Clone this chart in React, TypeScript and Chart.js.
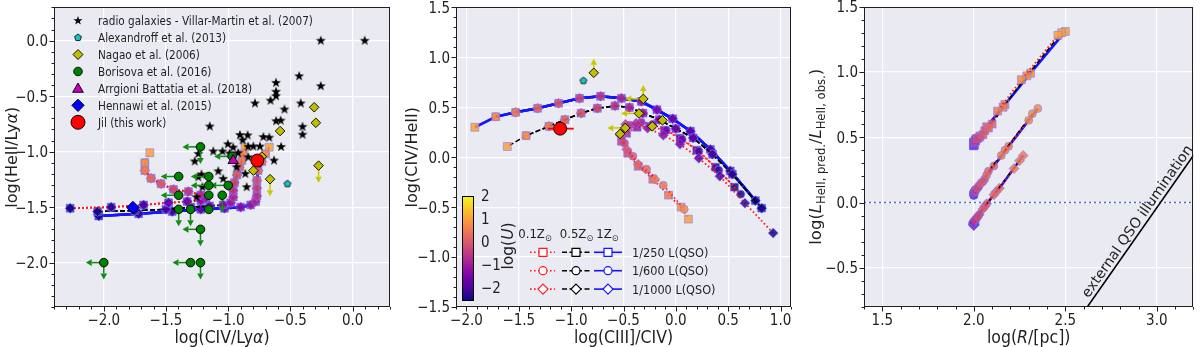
import React, { useEffect, useRef } from 'react';
import { Chart, registerables } from 'chart.js';

Chart.register(...registerables);

const FONT = '"DejaVu Sans", "Liberation Sans", Arial, sans-serif';
const INK = '#1f1f1f';
const PANEL_BG = '#eaeaf2';

// ---------------- model grid : log(U) of each model point ----------------
const LOGU_250 = [-2.5, -2.25, -2.0, -1.75, -1.5, -1.25, -1.0, -0.75, -0.5, -0.25, 0.0, 0.25, 0.5, 0.75, 1.0];
const LOGU_600 = [-2.5, -2.25, -2.0, -1.75, -1.5, -1.25, -1.0, -0.75, -0.5, -0.25, 0.0, 0.25, 0.5, 0.75];
const LOGU_1000 = [-2.5, -2.25, -2.0, -1.75, -1.5, -1.25, -1.0, -0.75, -0.5, -0.25, 0.0, 0.25, 0.5];
const CB_TICKS = [-2, -1, 0, 1, 2];

// ---------------- Panel 1 : log(HeII/Lya) vs log(CIV/Lya) ----------------
const P1_XTICKS = [-2.0, -1.5, -1.0, -0.5, 0.0];
const P1_YTICKS = [-2.0, -1.5, -1.0, -0.5, 0.0];

const RG_X = [-0.256, 0.097, -0.43, -0.256, -0.616, -0.616, -0.616, -0.66, -0.417, -0.785, -0.548, -0.616, -0.578, -0.403, -0.403, -1.148, -0.906, -0.844, -0.718, -0.67, -0.884, -1.003, -0.96, -0.798, -0.745, -0.575, -1.046, -1.12, -0.92, -1.24, -0.989, -0.632, -1.269, -0.839, -1.08, -1.215, -1.24, -0.933, -0.863, -0.852, -1.255, -1.207, -1.04, -0.84];
const RG_Y = [0.0, 0.0, -0.32, -0.41, -0.38, -0.46, -0.5, -0.54, -0.565, -0.565, -0.62, -0.725, -0.72, -0.776, -0.847, -0.773, -0.85, -0.853, -0.868, -0.874, -0.897, -0.933, -0.963, -0.954, -0.954, -0.957, -0.998, -0.998, -1.013, -1.02, -1.016, -1.08, -1.088, -1.05, -1.177, -1.206, -1.23, -1.14, -1.2, -1.32, -1.41, -1.32, -1.245, -0.956];

const ALEX1_X = [-0.524];
const ALEX1_Y = [-1.29];

const NAG1_X = [-0.309, -0.296, -0.583, -0.274, -0.664, -0.798, -0.73];
const NAG1_Y = [-0.6, -0.74, -0.814, -1.126, -1.248, -1.171, -1.045];
const NAG1_LIMITS = ['', '', '', 'D', 'D', '', ''];

const BOR_X = [-1.223, -0.968, -1.398, -1.156, -1.156, -1.0, -1.398, -1.156, -1.048, -1.398, -1.303, -1.156, -1.223, -2.0, -1.303, -1.223];
const BOR_Y = [-0.957, -1.043, -1.224, -1.224, -1.304, -1.304, -1.393, -1.393, -1.393, -1.52, -1.52, -1.52, -1.7, -2.0, -2.0, -2.0];
const BOR_LIMITS = ['LD', 'L', 'L', 'L', 'L', 'L', 'L', '', 'D', 'D', 'D', '', 'LD', 'LD', 'L', 'D'];

const ARR_X = [-0.96];
const ARR_Y = [-1.08];
const HEN_X = [-1.766];
const HEN_Y = [-1.504];
const JIL1_X = [-0.766];
const JIL1_Y = [-1.08];

const LEG1_LABELS = [
  'radio galaxies - Villar-Martin et al. (2007)',
  'Alexandroff et al. (2013)',
  'Nagao et al. (2006)',
  'Borisova et al. (2016)',
  'Arrgioni Battatia et al. (2018)',
  'Hennawi et al. (2015)',
  'Jil (this work)',
];

const M1_RED_X = [-2.27, -1.94, -1.68, -1.48, -1.33, -1.22, -1.18, -1.22, -1.32, -1.44, -1.54, -1.62, -1.67, -1.67, -1.63];
const M1_RED_Y = [-1.51, -1.5, -1.48, -1.46, -1.45, -1.44, -1.42, -1.39, -1.36, -1.34, -1.29, -1.24, -1.17, -1.1, -1.01];
const M1_BLACK_X = [-2.05, -1.75, -1.5, -1.3, -1.15, -1.04, -0.98, -0.96, -0.96, -0.95, -0.93, -0.91, -0.89, -0.88, -0.865];
const M1_BLACK_Y = [-1.54, -1.53, -1.52, -1.5, -1.49, -1.48, -1.46, -1.41, -1.35, -1.28, -1.21, -1.14, -1.08, -1.02, -0.96];
const M1_BLUE_X = [-2.04, -1.72, -1.45, -1.22, -1.03, -0.9, -0.82, -0.78, -0.77, -0.77, -0.77, -0.76, -0.73, -0.7, -0.67];
const M1_BLUE_Y = [-1.58, -1.56, -1.54, -1.52, -1.51, -1.5, -1.48, -1.45, -1.4, -1.33, -1.26, -1.17, -1.09, -1.02, -0.96];

// ---------------- Panel 2 : log(CIV/HeII) vs log(CIII]/CIV) ----------------
const P2_XTICKS = [-2.0, -1.5, -1.0, -0.5, 0.0, 0.5, 1.0];
const P2_YTICKS = [-1.5, -1.0, -0.5, 0.0, 0.5, 1.0, 1.5];

const NAG2_X = [-0.784, -0.311, -0.352, -0.127, -0.225, -0.483, -0.533];
const NAG2_Y = [0.845, 0.584, 0.438, 0.369, 0.309, 0.293, 0.233];
const NAG2_LIMITS = ['U', 'LU', 'L', '', '', 'L', ''];
const ALEX2_X = [-0.883];
const ALEX2_Y = [0.766];
const JIL2_X = [-1.105];
const JIL2_Y = [0.286];
const JIL2_XERR = [[-1.222, -0.975]];

const M2_BLUE_X = [0.76, 0.52, 0.33, 0.14, -0.03, -0.18, -0.33, -0.52, -0.72, -0.92, -1.12, -1.32, -1.53, -1.72, -1.92];
const M2_BLUE_Y = [-0.435, -0.137, 0.078, 0.26, 0.385, 0.475, 0.557, 0.59, 0.61, 0.59, 0.54, 0.49, 0.45, 0.405, 0.3];
const M2_BLACK_X = [0.82, 0.54, 0.35, 0.165, 0.0, -0.159, -0.314, -0.444, -0.581, -0.75, -0.905, -1.06, -1.212, -1.43, -1.61];
const M2_BLACK_Y = [-0.51, -0.17, 0.03, 0.193, 0.286, 0.376, 0.441, 0.498, 0.514, 0.49, 0.441, 0.375, 0.309, 0.216, 0.107];
const M2_RED250_X = [0.56, 0.38, 0.2, 0.04, -0.11, -0.25, -0.37, -0.47, -0.52, -0.46, -0.36, -0.22, -0.07, 0.05, 0.12];
const M2_RED250_Y = [-0.3, -0.1, 0.07, 0.19, 0.27, 0.31, 0.3, 0.24, 0.16, 0.04, -0.09, -0.22, -0.38, -0.5, -0.62];
const M2_RED600_X = [0.62, 0.41, 0.22, 0.06, -0.09, -0.22, -0.33, -0.44, -0.51, -0.49, -0.41, -0.28, -0.12, 0.08];
const M2_RED600_Y = [-0.37, -0.13, 0.06, 0.18, 0.27, 0.33, 0.35, 0.32, 0.24, 0.14, 0.01, -0.12, -0.28, -0.52];
const M2_RED1000_X = [0.93, 0.66, 0.42, 0.22, 0.04, -0.12, -0.27, -0.38, -0.48, -0.53, -0.47, -0.36, -0.2];
const M2_RED1000_Y = [-0.76, -0.46, -0.19, -0.01, 0.13, 0.22, 0.29, 0.34, 0.33, 0.22, 0.08, -0.07, -0.22];

const LEG2_ROWS = ['1/250 L(QSO)', '1/600 L(QSO)', '1/1000 L(QSO)'];
const LEG2_HEAD = ['0.1Z', '0.5Z', '1Z'];

// ---------------- Panel 3 : log(L_pred/L_obs) vs log(R/pc) ----------------
const P3_XTICKS = [1.5, 2.0, 2.5, 3.0];
const P3_YTICKS = [-0.5, 0.0, 0.5, 1.0, 1.5];

const M3_RED250_X = [2.0, 2.0, 2.0, 2.0, 2.0, 2.0, 2.0, 2.005, 2.01, 2.02, 2.05, 2.08, 2.13, 2.26, 2.46];
const M3_RED250_Y = [0.435, 0.44, 0.44, 0.445, 0.45, 0.455, 0.46, 0.465, 0.47, 0.49, 0.52, 0.57, 0.7, 0.94, 1.28];
const M3_BLACK250_X = [2.0, 2.0, 2.0, 2.0, 2.0, 2.0, 2.0, 2.005, 2.01, 2.03, 2.06, 2.1, 2.16, 2.29, 2.48];
const M3_BLACK250_Y = [0.435, 0.44, 0.44, 0.445, 0.45, 0.455, 0.46, 0.465, 0.48, 0.5, 0.55, 0.6, 0.73, 0.97, 1.3];
const M3_BLUE250_X = [2.0, 2.0, 2.0, 2.0, 2.0, 2.0, 2.0, 2.005, 2.01, 2.015, 2.035, 2.07, 2.17, 2.31, 2.5];
const M3_BLUE250_Y = [0.435, 0.44, 0.44, 0.445, 0.45, 0.455, 0.46, 0.47, 0.48, 0.49, 0.51, 0.58, 0.75, 0.99, 1.31];
const M3_RED600_X = [2.0, 2.0, 2.0, 2.0, 2.0, 2.0, 2.0, 2.005, 2.01, 2.02, 2.04, 2.07, 2.15, 2.3];
const M3_RED600_Y = [0.055, 0.06, 0.06, 0.065, 0.07, 0.075, 0.08, 0.085, 0.09, 0.11, 0.15, 0.21, 0.36, 0.63];
const M3_BLACK600_X = [2.0, 2.0, 2.0, 2.0, 2.0, 2.0, 2.0, 2.005, 2.01, 2.025, 2.05, 2.08, 2.17, 2.32];
const M3_BLACK600_Y = [0.055, 0.06, 0.06, 0.065, 0.07, 0.075, 0.08, 0.09, 0.1, 0.12, 0.16, 0.24, 0.4, 0.68];
const M3_BLUE600_X = [2.0, 2.0, 2.0, 2.0, 2.0, 2.0, 2.0, 2.005, 2.01, 2.03, 2.06, 2.11, 2.19, 2.35];
const M3_BLUE600_Y = [0.055, 0.06, 0.06, 0.065, 0.07, 0.075, 0.08, 0.09, 0.1, 0.13, 0.18, 0.28, 0.43, 0.72];
const M3_RED1000_X = [2.0, 2.0, 2.0, 2.0, 2.0, 2.0, 2.0, 2.005, 2.01, 2.02, 2.05, 2.11, 2.22];
const M3_RED1000_Y = [-0.175, -0.17, -0.17, -0.165, -0.16, -0.155, -0.15, -0.14, -0.13, -0.11, -0.05, 0.06, 0.26];
const M3_BLACK1000_X = [2.0, 2.0, 2.0, 2.0, 2.0, 2.0, 2.0, 2.005, 2.01, 2.025, 2.06, 2.12, 2.25];
const M3_BLACK1000_Y = [-0.175, -0.17, -0.17, -0.165, -0.16, -0.155, -0.15, -0.14, -0.125, -0.1, -0.03, 0.08, 0.32];
const M3_BLUE1000_X = [2.0, 2.0, 2.0, 2.0, 2.0, 2.0, 2.0, 2.005, 2.015, 2.03, 2.07, 2.14, 2.27];
const M3_BLUE1000_Y = [-0.175, -0.17, -0.17, -0.165, -0.16, -0.155, -0.15, -0.135, -0.12, -0.09, -0.01, 0.11, 0.36];

const ZERO_X = [1.4, 3.2];
const ZERO_Y = [0.0, 0.0];
const EXT_X = [2.6, 3.2];
const EXT_Y = [-0.84, 0.36];
const EXT_LABEL = 'external QSO illumination';

// ---------------- colour map ----------------
const PLASMA = ['#0d0887', '#41049d', '#6a00a8', '#8f0da4', '#b12a90', '#cc4778', '#e16462', '#f2844b', '#fca636', '#fcce25', '#f0f921'];
const U_MIN = -2.57;
const U_MAX = 2.0;
function hexRgb(h: string) {
  return [parseInt(h.slice(1, 3), 16), parseInt(h.slice(3, 5), 16), parseInt(h.slice(5, 7), 16)];
}
function plasma(t: number, a = 1) {
  t = Math.max(0, Math.min(1, t));
  const f = t * (PLASMA.length - 1);
  const i = Math.min(Math.floor(f), PLASMA.length - 2);
  const r = f - i;
  const c0 = hexRgb(PLASMA[i]);
  const c1 = hexRgb(PLASMA[i + 1]);
  const c = c0.map((v, k) => Math.round(v + (c1[k] - v) * r));
  return `rgba(${c[0]},${c[1]},${c[2]},${a})`;
}
function uColor(u: number, a: number) {
  return plasma((u - U_MIN) / (U_MAX - U_MIN), a);
}

// ---------------- helpers ----------------
function pts(xs: number[], ys: number[]) {
  return xs.map((x, i) => ({ x, y: ys[i] }));
}

const Z_LINE: any = {
  red: { color: '#ff1a1a', dash: [1.6, 2.4], width: 1.8 },
  black: { color: '#000000', dash: [5, 2.5], width: 1.5 },
  blue: { color: '#1414ff', dash: [], width: 2.6 },
};
const L_MARK: any = {
  L250: { style: 'rect', r: 5.6 },
  L600: { style: 'circle', r: 4.0 },
  L1000: { style: 'rectRot', r: 5.0 },
};

function track(xs: number[], ys: number[], us: number[], z: string, l: string, order: number) {
  const ln = Z_LINE[z];
  const mk = L_MARK[l];
  return {
    data: pts(xs.slice(0, us.length), ys.slice(0, us.length)),
    showLine: true,
    borderColor: ln.color,
    borderDash: ln.dash,
    borderWidth: ln.width,
    pointStyle: mk.style,
    pointRadius: mk.r,
    pointBorderWidth: 1,
    pointBackgroundColor: us.map((u) => uColor(u, 0.85)),
    pointBorderColor: 'rgba(120,120,255,0.55)',
    order,
  };
}

type Seg = { t: string; it?: boolean; sub?: boolean };
function segFont(size: number, s: Seg) {
  const sz = s.sub ? size * 0.7 : size;
  return `${s.it ? 'italic ' : ''}${sz}px ${FONT}`;
}
function drawRich(ctx: any, segs: Seg[], cx: number, cy: number, size: number, rot: number, sx: number, align = 'center') {
  ctx.save();
  ctx.translate(cx, cy);
  ctx.rotate(rot);
  ctx.scale(sx, 1);
  let total = 0;
  const ws = segs.map((s) => {
    ctx.font = segFont(size, s);
    const w = ctx.measureText(s.t).width;
    total += w;
    return w;
  });
  let x = align === 'center' ? -total / 2 : align === 'right' ? -total : 0;
  ctx.textBaseline = 'alphabetic';
  ctx.textAlign = 'left';
  ctx.fillStyle = INK;
  const base = size * 0.36;
  segs.forEach((s, i) => {
    ctx.font = segFont(size, s);
    ctx.fillText(s.t, x, base + (s.sub ? size * 0.24 : 0));
    x += ws[i];
  });
  ctx.restore();
}
function txt(ctx: any, t: string, x: number, y: number, size: number, align: string, sx: number) {
  drawRich(ctx, [{ t }], x, y, size, 0, sx, align);
}
function fmt(v: number, d = 1) {
  const s = Math.abs(v).toFixed(d);
  return v < -1e-9 ? '\u2212' + s : s;
}

function pathStar(ctx: any, x: number, y: number, r: number) {
  ctx.beginPath();
  for (let i = 0; i < 10; i++) {
    const a = -Math.PI / 2 + (i * Math.PI) / 5;
    const rr = i % 2 === 0 ? r : r * 0.4;
    ctx.lineTo(x + rr * Math.cos(a), y + rr * Math.sin(a));
  }
  ctx.closePath();
}
function pathPoly(ctx: any, x: number, y: number, r: number, n: number) {
  ctx.beginPath();
  for (let i = 0; i < n; i++) {
    const a = -Math.PI / 2 + (i * 2 * Math.PI) / n;
    ctx.lineTo(x + r * Math.cos(a), y + r * Math.sin(a));
  }
  ctx.closePath();
}
function pathDiamond(ctx: any, x: number, y: number, r: number) {
  ctx.beginPath();
  ctx.moveTo(x, y - r);
  ctx.lineTo(x + r, y);
  ctx.lineTo(x, y + r);
  ctx.lineTo(x - r, y);
  ctx.closePath();
}
function pathCircle(ctx: any, x: number, y: number, r: number) {
  ctx.beginPath();
  ctx.arc(x, y, r, 0, Math.PI * 2);
}
function pathSquare(ctx: any, x: number, y: number, h: number) {
  ctx.beginPath();
  ctx.rect(x - h, y - h, 2 * h, 2 * h);
}
function paint(ctx: any, fill: string | null, stroke: string | null, lw = 1) {
  if (fill) {
    ctx.fillStyle = fill;
    ctx.fill();
  }
  if (stroke) {
    ctx.strokeStyle = stroke;
    ctx.lineWidth = lw;
    ctx.stroke();
  }
}
function markerImage(draw: (g: any, c: number) => void, size: number) {
  const c = document.createElement('canvas');
  c.width = size;
  c.height = size;
  const g = c.getContext('2d');
  draw(g, size / 2);
  return c;
}

function drawArrow(ctx: any, x: number, y: number, dx: number, dy: number, len: number, color: string) {
  const ex = x + dx * len;
  const ey = y + dy * len;
  const head = 6;
  const hw = 3.3;
  const bx = ex - dx * head;
  const by = ey - dy * head;
  const px = -dy;
  const py = dx;
  ctx.save();
  ctx.strokeStyle = color;
  ctx.fillStyle = color;
  ctx.lineWidth = 1.5;
  ctx.beginPath();
  ctx.moveTo(x, y);
  ctx.lineTo(bx, by);
  ctx.stroke();
  ctx.beginPath();
  ctx.moveTo(ex, ey);
  ctx.lineTo(bx + px * hw, by + py * hw);
  ctx.lineTo(bx - px * hw, by - py * hw);
  ctx.closePath();
  ctx.fill();
  ctx.restore();
}

const ARROW_DIR: any = { L: [-1, 0, 18], D: [0, 1, 17], U: [0, -1, 14] };

const marksPlugin = {
  id: 'marks',
  beforeDatasetDraw(chart: any, args: any) {
    const ds = chart.data.datasets[args.index];
    const ctx = chart.ctx;
    const meta = args.meta;
    if (ds.limits) {
      meta.data.forEach((pt: any, j: number) => {
        const code = ds.limits[j] || '';
        for (const ch of code) {
          const d = ARROW_DIR[ch];
          if (d) drawArrow(ctx, pt.x, pt.y, d[0], d[1], d[2], ds.limitColor);
        }
      });
    }
    if (ds.xerr) {
      const xs = chart.scales.x;
      ctx.save();
      ctx.strokeStyle = ds.xerrColor;
      ctx.lineWidth = 1.8;
      meta.data.forEach((pt: any, j: number) => {
        const e = ds.xerr[j];
        ctx.beginPath();
        ctx.moveTo(xs.getPixelForValue(e[0]), pt.y);
        ctx.lineTo(xs.getPixelForValue(e[1]), pt.y);
        ctx.stroke();
      });
      ctx.restore();
    }
  },
};

function decor(cfg: any) {
  return {
    id: 'decor',
    beforeDraw(chart: any) {
      const { ctx, chartArea: a } = chart;
      ctx.save();
      ctx.fillStyle = '#ffffff';
      ctx.fillRect(0, 0, chart.width, chart.height);
      ctx.fillStyle = PANEL_BG;
      ctx.fillRect(a.left, a.top, a.right - a.left, a.bottom - a.top);
      ctx.restore();
    },
    afterDraw(chart: any) {
      const { ctx, chartArea: a, scales } = chart;
      const xs = scales.x;
      const ys = scales.y;
      ctx.save();
      ctx.strokeStyle = INK;
      ctx.lineWidth = 1;
      ctx.strokeRect(Math.round(a.left) + 0.5, Math.round(a.top) + 0.5, Math.round(a.right - a.left) - 1, Math.round(a.bottom - a.top) - 1);
      // ticks (outward, major + minor)
      ctx.beginPath();
      const step = 0.1;
      for (let k = Math.ceil(xs.min / step - 1e-6); k <= Math.floor(xs.max / step + 1e-6); k++) {
        const v = k * step;
        const major = cfg.xt.some((t: number) => Math.abs(t - v) < 1e-6);
        const px = Math.round(xs.getPixelForValue(v)) + 0.5;
        ctx.moveTo(px, a.bottom);
        ctx.lineTo(px, a.bottom + (major ? 4.5 : 2.5));
      }
      for (let k = Math.ceil(ys.min / step - 1e-6); k <= Math.floor(ys.max / step + 1e-6); k++) {
        const v = k * step;
        const major = cfg.yt.some((t: number) => Math.abs(t - v) < 1e-6);
        const py = Math.round(ys.getPixelForValue(v)) + 0.5;
        ctx.moveTo(a.left, py);
        ctx.lineTo(a.left - (major ? 4.5 : 2.5), py);
      }
      ctx.stroke();
      cfg.xt.forEach((v: number) => txt(ctx, fmt(v), xs.getPixelForValue(v), a.bottom + 13, 15, 'center', 0.9));
      cfg.yt.forEach((v: number) => txt(ctx, fmt(v), a.left - 6, ys.getPixelForValue(v), 15, 'right', 0.9));
      drawRich(ctx, cfg.xTitle, (a.left + a.right) / 2, 337, 17.5, 0, 0.9);
      drawRich(ctx, cfg.yTitle, cfg.yTitleX, (a.top + a.bottom) / 2, cfg.yTitleSize || 16, -Math.PI / 2, 1);
      if (cfg.extra) cfg.extra(chart, ctx);
      ctx.restore();
    },
  };
}

function baseOptions(box: any, xr: number[], yr: number[], xt: number[], yt: number[]) {
  const H = 347;
  const W = 400;
  return {
    responsive: false,
    maintainAspectRatio: false,
    animation: false,
    events: [],
    layout: { padding: { left: 0, top: box.t, right: W - box.r, bottom: 0 } },
    plugins: { legend: { display: false }, tooltip: { enabled: false } },
    scales: {
      x: {
        type: 'linear',
        min: xr[0],
        max: xr[1],
        ticks: { display: false },
        grid: { color: '#ffffff', lineWidth: 1.2, drawTicks: false },
        border: { display: false },
        afterBuildTicks: (s: any) => {
          s.ticks = xt.map((v) => ({ value: v }));
        },
        afterFit: (s: any) => {
          s.height = H - box.b;
          s.paddingLeft = 0;
          s.paddingRight = 0;
        },
      },
      y: {
        type: 'linear',
        min: yr[0],
        max: yr[1],
        ticks: { display: false },
        grid: { color: '#ffffff', lineWidth: 1.2, drawTicks: false },
        border: { display: false },
        afterBuildTicks: (s: any) => {
          s.ticks = yt.map((v) => ({ value: v }));
        },
        afterFit: (s: any) => {
          s.width = box.l;
          s.paddingTop = 0;
          s.paddingBottom = 0;
        },
      },
    },
  };
}

function obs(xs: number[], ys: number[], extra: any) {
  return { data: pts(xs, ys), showLine: false, pointBorderColor: '#000000', pointBorderWidth: 0.9, ...extra };
}

// ---------------- Panel builders ----------------
function buildP1(canvas: HTMLCanvasElement) {
  const star = markerImage((g, c) => {
    pathStar(g, c, c, 5.2);
    paint(g, '#000000', null);
  }, 12);
  const pent = markerImage((g, c) => {
    pathPoly(g, c, c, 3.6, 5);
    paint(g, '#19c0c0', '#000000', 0.8);
  }, 10);
  const datasets: any[] = [
    obs(JIL1_X, JIL1_Y, { pointStyle: 'circle', pointRadius: 6.5, pointBackgroundColor: '#ff0000', order: 1 }),
    obs(HEN_X, HEN_Y, { pointStyle: 'rectRot', pointRadius: 6.3, pointBackgroundColor: '#0000ff', order: 2 }),
    obs(ARR_X, ARR_Y, { pointStyle: 'triangle', pointRadius: 6, pointBackgroundColor: '#bf00bf', order: 3 }),
    obs(BOR_X, BOR_Y, { pointStyle: 'circle', pointRadius: 4.3, pointBackgroundColor: '#008000', order: 4, limits: BOR_LIMITS, limitColor: '#138a13' }),
    obs(NAG1_X, NAG1_Y, { pointStyle: 'rectRot', pointRadius: 4.8, pointBackgroundColor: '#bfbf00', order: 5, limits: NAG1_LIMITS, limitColor: '#c8c800' }),
    obs(ALEX1_X, ALEX1_Y, { pointStyle: pent, pointRadius: 3.5, order: 6 }),
    obs(RG_X, RG_Y, { pointStyle: star, pointRadius: 4.5, order: 7 }),
    track(M1_RED_X, M1_RED_Y, LOGU_250, 'red', 'L250', 12),
    track(M1_RED_X, M1_RED_Y, LOGU_600, 'red', 'L600', 11),
    track(M1_RED_X, M1_RED_Y, LOGU_1000, 'red', 'L1000', 10),
    track(M1_BLACK_X, M1_BLACK_Y, LOGU_250, 'black', 'L250', 22),
    track(M1_BLACK_X, M1_BLACK_Y, LOGU_600, 'black', 'L600', 21),
    track(M1_BLACK_X, M1_BLACK_Y, LOGU_1000, 'black', 'L1000', 20),
    track(M1_BLUE_X, M1_BLUE_Y, LOGU_250, 'blue', 'L250', 32),
    track(M1_BLUE_X, M1_BLUE_Y, LOGU_600, 'blue', 'L600', 31),
    track(M1_BLUE_X, M1_BLUE_Y, LOGU_1000, 'blue', 'L1000', 30),
  ];
  const cfg = {
    xt: P1_XTICKS,
    yt: P1_YTICKS,
    xTitle: [{ t: 'log(CIV/Ly' }, { t: '\u03b1', it: true }, { t: ')' }],
    yTitle: [{ t: 'log(HeII/Ly' }, { t: '\u03b1', it: true }, { t: ')' }],
    yTitleX: 11,
    extra: (chart: any, ctx: any) => {
      const mx = 78;
      const tx = 98;
      LEG1_LABELS.forEach((lab, i) => {
        const y = 20.7 + i * 16.93;
        ctx.save();
        if (i === 0) { pathStar(ctx, mx, y, 4.8); paint(ctx, '#000000', null); }
        if (i === 1) { pathPoly(ctx, mx, y, 3.6, 5); paint(ctx, '#19c0c0', '#000000', 0.8); }
        if (i === 2) { pathDiamond(ctx, mx, y, 5); paint(ctx, '#bfbf00', '#000000', 0.9); }
        if (i === 3) { pathCircle(ctx, mx, y, 4.3); paint(ctx, '#008000', '#000000', 0.9); }
        if (i === 4) { pathPoly(ctx, mx, y + 0.8, 6.2, 3); paint(ctx, '#bf00bf', '#000000', 0.9); }
        if (i === 5) { pathDiamond(ctx, mx, y, 6.2); paint(ctx, '#0000ff', '#000000', 0.9); }
        if (i === 6) { pathCircle(ctx, mx, y, 7); paint(ctx, '#ff0000', '#000000', 0.9); }
        ctx.restore();
        txt(ctx, lab, tx, y, 12.2, 'left', 0.86);
      });
    },
  };
  return new Chart(canvas, {
    type: 'scatter',
    data: { datasets },
    options: baseOptions({ l: 54, r: 390, t: 4, b: 307 }, [-2.4, 0.3], [-2.4, 0.3], P1_XTICKS, P1_YTICKS) as any,
    plugins: [decor(cfg), marksPlugin],
  } as any);
}

function buildP2(canvas: HTMLCanvasElement) {
  const pent = markerImage((g, c) => {
    pathPoly(g, c, c, 3.6, 5);
    paint(g, '#19c0c0', '#000000', 0.8);
  }, 10);
  const datasets: any[] = [
    obs(JIL2_X, JIL2_Y, { pointStyle: 'circle', pointRadius: 6.5, pointBackgroundColor: '#ff0000', order: 1, xerr: JIL2_XERR, xerrColor: '#ff0000' }),
    obs(NAG2_X, NAG2_Y, { pointStyle: 'rectRot', pointRadius: 4.8, pointBackgroundColor: '#bfbf00', order: 2, limits: NAG2_LIMITS, limitColor: '#c8c800' }),
    obs(ALEX2_X, ALEX2_Y, { pointStyle: pent, pointRadius: 3.5, order: 3 }),
    track(M2_RED250_X, M2_RED250_Y, LOGU_250, 'red', 'L250', 12),
    track(M2_RED600_X, M2_RED600_Y, LOGU_600, 'red', 'L600', 11),
    track(M2_RED1000_X, M2_RED1000_Y, LOGU_1000, 'red', 'L1000', 10),
    track(M2_BLACK_X, M2_BLACK_Y, LOGU_250, 'black', 'L250', 22),
    track(M2_BLACK_X, M2_BLACK_Y, LOGU_600, 'black', 'L600', 21),
    track(M2_BLACK_X, M2_BLACK_Y, LOGU_1000, 'black', 'L1000', 20),
    track(M2_BLUE_X, M2_BLUE_Y, LOGU_250, 'blue', 'L250', 32),
    track(M2_BLUE_X, M2_BLUE_Y, LOGU_600, 'blue', 'L600', 31),
    track(M2_BLUE_X, M2_BLUE_Y, LOGU_1000, 'blue', 'L1000', 30),
  ];
  const cfg = {
    xt: P2_XTICKS,
    yt: P2_YTICKS,
    xTitle: [{ t: 'log(CIII]/CIV)' }],
    yTitle: [{ t: 'log(CIV/HeII)' }],
    yTitleX: 11,
    extra: (chart: any, ctx: any) => {
      // colour bar
      const x0 = 62, x1 = 74, y0 = 196, y1 = 301;
      const grad = ctx.createLinearGradient(0, y1, 0, y0);
      PLASMA.forEach((c, i) => grad.addColorStop(i / (PLASMA.length - 1), c));
      ctx.save();
      ctx.fillStyle = grad;
      ctx.fillRect(x0, y0, x1 - x0, y1 - y0);
      ctx.strokeStyle = '#000000';
      ctx.lineWidth = 1;
      ctx.strokeRect(x0 + 0.5, y0 + 0.5, x1 - x0 - 1, y1 - y0 - 1);
      ctx.restore();
      CB_TICKS.forEach((u) => {
        const y = y1 - ((u - U_MIN) / (U_MAX - U_MIN)) * (y1 - y0);
        txt(ctx, fmt(u, 0), 81, y, 15, 'left', 0.9);
      });
      drawRich(ctx, [{ t: 'log(' }, { t: 'U', it: true }, { t: ')' }], 107, 246, 15.5, -Math.PI / 2, 1);
      // header
      const heads = [135, 176.5, 207.5];
      LEG2_HEAD.forEach((h, i) => drawRich(ctx, [{ t: h }, { t: '\u2299', sub: true }], heads[i], 233, 13, 0, 0.9));
      // rows
      const cols = [
        { a: 130, b: 155, m: 143, ln: Z_LINE.red, w: 1.6 },
        { a: 162, b: 190, m: 176, ln: Z_LINE.black, w: 1.5 },
        { a: 194, b: 222, m: 208, ln: Z_LINE.blue, w: 1.6 },
      ];
      LEG2_ROWS.forEach((lab, r) => {
        const y = 252.3 + r * 18.4;
        cols.forEach((c) => {
          ctx.save();
          ctx.strokeStyle = c.ln.color;
          ctx.lineWidth = c.w;
          ctx.setLineDash(c.ln.dash);
          ctx.beginPath();
          ctx.moveTo(c.a, y);
          ctx.lineTo(c.b, y);
          ctx.stroke();
          ctx.setLineDash([]);
          if (r === 0) pathSquare(ctx, c.m, y, 4);
          if (r === 1) pathCircle(ctx, c.m, y, 4);
          if (r === 2) pathDiamond(ctx, c.m, y, 5);
          paint(ctx, '#ffffff', c.ln.color, 1.2);
          ctx.restore();
        });
        txt(ctx, lab, 232, y, 13, 'left', 0.87);
      });
    },
  };
  return new Chart(canvas, {
    type: 'scatter',
    data: { datasets },
    options: baseOptions({ l: 56, r: 391, t: 5, b: 307 }, [-2.1, 1.1], [-1.5, 1.5], P2_XTICKS, P2_YTICKS) as any,
    plugins: [decor(cfg), marksPlugin],
  } as any);
}

function buildP3(canvas: HTMLCanvasElement) {
  const datasets: any[] = [
    {
      data: pts(EXT_X, EXT_Y), showLine: true, borderColor: '#000000', borderWidth: 1.6, pointRadius: 0, order: 1,
    },
    {
      data: pts(ZERO_X, ZERO_Y), showLine: true, borderColor: '#4c72c4', borderWidth: 1.5, borderDash: [2, 3], pointRadius: 0, order: 40,
    },
    track(M3_RED250_X, M3_RED250_Y, LOGU_250, 'red', 'L250', 12),
    track(M3_RED600_X, M3_RED600_Y, LOGU_600, 'red', 'L600', 11),
    track(M3_RED1000_X, M3_RED1000_Y, LOGU_1000, 'red', 'L1000', 10),
    track(M3_BLACK250_X, M3_BLACK250_Y, LOGU_250, 'black', 'L250', 22),
    track(M3_BLACK600_X, M3_BLACK600_Y, LOGU_600, 'black', 'L600', 21),
    track(M3_BLACK1000_X, M3_BLACK1000_Y, LOGU_1000, 'black', 'L1000', 20),
    track(M3_BLUE250_X, M3_BLUE250_Y, LOGU_250, 'blue', 'L250', 32),
    track(M3_BLUE600_X, M3_BLUE600_Y, LOGU_600, 'blue', 'L600', 31),
    track(M3_BLUE1000_X, M3_BLUE1000_Y, LOGU_1000, 'blue', 'L1000', 30),
  ];
  const cfg = {
    xt: P3_XTICKS,
    yt: P3_YTICKS,
    xTitle: [{ t: 'log(' }, { t: 'R', it: true }, { t: '/[pc])' }],
    yTitle: [
      { t: 'log(' }, { t: 'L', it: true }, { t: 'HeII, pred.', sub: true },
      { t: '/' }, { t: 'L', it: true }, { t: 'HeII, obs.', sub: true }, { t: ')' },
    ],
    yTitleX: 15,
    yTitleSize: 16.5,
    extra: (chart: any, ctx: any) => {
      const xs = chart.scales.x;
      const ys = chart.scales.y;
      const a = chart.chartArea;
      const x1 = xs.getPixelForValue(EXT_X[0]);
      const y1 = ys.getPixelForValue(EXT_Y[0]);
      const x2 = xs.getPixelForValue(EXT_X[1]);
      const y2 = ys.getPixelForValue(EXT_Y[1]);
      const dx = x2 - x1;
      const dy = y2 - y1;
      const len = Math.hypot(dx, dy);
      const ang = Math.atan2(dy, dx);
      const f = 0.55;
      const ax = x1 + dx * f + (dy / len) * 9;
      const ay = y1 + dy * f + (-dx / len) * 9;
      ctx.save();
      ctx.beginPath();
      ctx.rect(a.left, a.top, a.right - a.left, a.bottom - a.top);
      ctx.clip();
      drawRich(ctx, [{ t: EXT_LABEL }], ax, ay, 14.2, ang, 1);
      ctx.restore();
    },
  };
  return new Chart(canvas, {
    type: 'scatter',
    data: { datasets },
    options: baseOptions({ l: 64, r: 399, t: 5, b: 307 }, [1.4, 3.2], [-0.8, 1.5], P3_XTICKS, P3_YTICKS) as any,
    plugins: [decor(cfg), marksPlugin],
  } as any);
}

function Panel({ build, left }: { build: (c: HTMLCanvasElement) => any; left: number }) {
  const ref = useRef<HTMLCanvasElement>(null);
  useEffect(() => {
    const chart = build(ref.current as HTMLCanvasElement);
    return () => chart.destroy();
  }, [build]);
  return (
    <canvas
      ref={ref}
      width={400}
      height={347}
      style={{ position: 'absolute', left, top: 0, width: 400, height: 347, display: 'block' }}
    />
  );
}

export default function App() {
  return (
    <div style={{ position: 'absolute', left: 0, top: 0, width: 1200, height: 347, background: '#ffffff', overflow: 'hidden' }}>
      <Panel build={buildP1} left={0} />
      <Panel build={buildP2} left={400} />
      <Panel build={buildP3} left={800} />
    </div>
  );
}
